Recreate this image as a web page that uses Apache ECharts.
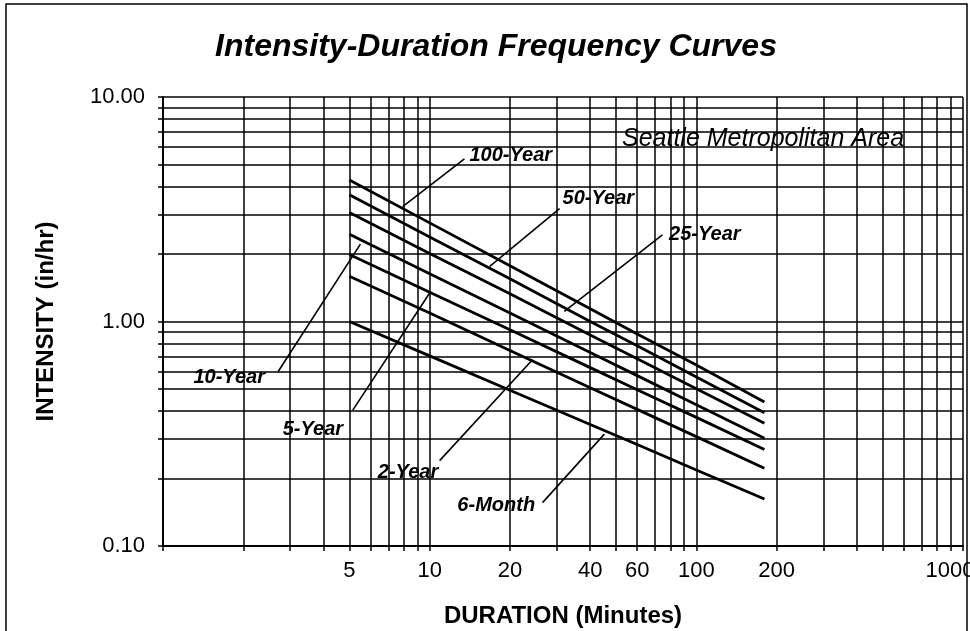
<!DOCTYPE html>
<html>
<head>
<meta charset="utf-8">
<title>Intensity-Duration Frequency Curves</title>
<script src="https://cdn.jsdelivr.net/npm/echarts@6/dist/echarts.min.js"></script>
</head>
<body style="margin:0;background:#fff">
<div id="main" style="width:970px;height:631px"></div>
<script>
var durations = [5, 10, 20, 40, 60, 100, 180];

// intensity (in/hr) per return period
var yr100 = [4.27, 2.75, 1.77, 1.14, 0.88, 0.64, 0.438];
var yr50  = [3.67, 2.38, 1.55, 1.00, 0.78, 0.566, 0.392];
var yr25  = [3.06, 2.01, 1.33, 0.87, 0.683, 0.502, 0.352];
var yr10  = [2.45, 1.63, 1.09, 0.727, 0.574, 0.426, 0.302];
var yr5   = [1.99, 1.35, 0.918, 0.623, 0.497, 0.374, 0.269];
var yr2   = [1.59, 1.09, 0.742, 0.507, 0.406, 0.307, 0.222];
var mo6   = [1.00, 0.703, 0.494, 0.348, 0.283, 0.218, 0.162];

// axis ticks
var xTickLabels = [5, 10, 20, 40, 60, 100, 200, 1000];
var xGrid = [1, 2, 3, 4, 5, 6, 7, 8, 9, 10, 20, 30, 40, 50, 60, 70, 80, 90,
             100, 200, 300, 400, 500, 600, 700, 800, 900, 1000];
var yGrid = [0.1, 0.2, 0.3, 0.4, 0.5, 0.6, 0.7, 0.8, 0.9,
             1, 2, 3, 4, 5, 6, 7, 8, 9, 10];

// curve labels and their leader lines (data coords)
var labelNames = ['100-Year', '50-Year', '25-Year', '10-Year', '5-Year', '2-Year', '6-Month'];
var labelAt = [[14.1, 5.5], [31.5, 3.52], [79, 2.45], [1.30, 0.561], [2.81, 0.331], [6.39, 0.212], [12.7, 0.151]];
var leaderFrom = [[13.5, 5.3], [30.7, 3.18], [74.6, 2.43], [2.70, 0.597], [5.15, 0.403], [10.9, 0.240], [26.5, 0.156]];
var leaderTo = [[7.92, 3.25], [16.8, 1.76], [32, 1.11], [5.5, 2.21], [10.0, 1.34], [24.3, 0.676], [45.2, 0.315]];

var font = 'Liberation Sans, Arial, sans-serif';

function pairs(ys) {
  return durations.map(function (d, i) { return [d, ys[i]]; });
}

var curves = [yr100, yr50, yr25, yr10, yr5, yr2, mo6];

var series = [];

// grid lines drawn as mark lines so minor log lines sit at 2..9
series.push({
  type: 'line',
  data: [],
  z: 1,
  silent: true,
  markLine: {
    silent: true,
    symbol: 'none',
    animation: false,
    label: { show: false },
    lineStyle: { color: '#000', width: 1.5, type: 'solid', opacity: 1 },
    data: xGrid.map(function (v) { return { xAxis: v }; })
      .concat(yGrid.map(function (v) { return { yAxis: v }; }))
  }
});

curves.forEach(function (c, i) {
  series.push({
    type: 'line',
    name: labelNames[i],
    data: pairs(c),
    showSymbol: false,
    symbol: 'none',
    z: 5,
    lineStyle: { color: '#000', width: 2.8 }
  });
});

// leader lines
labelNames.forEach(function (n, i) {
  series.push({
    type: 'line',
    data: [leaderFrom[i], leaderTo[i]],
    symbol: 'none',
    z: 4,
    lineStyle: { color: '#000', width: 1.6 }
  });
});

// curve labels
series.push({
  type: 'scatter',
  symbolSize: 0,
  z: 6,
  itemStyle: { color: '#000', opacity: 1 },
  emphasis: { disabled: true },
  data: labelAt.map(function (p, i) { return { value: p, name: labelNames[i] }; }),
  label: {
    show: true,
    position: 'right',
    distance: 0,
    formatter: '{b}',
    color: '#000',
    opacity: 1,
    textBorderWidth: 0,
    fontFamily: font,
    fontStyle: 'italic',
    fontWeight: 'bold',
    fontSize: 20
  }
});

var chart = echarts.init(document.getElementById('main'));
chart.setOption({
  backgroundColor: '#fff',
  animation: false,
  title: {
    text: 'Intensity-Duration Frequency Curves',
    left: 491,
    textAlign: 'center',
    top: 26,
    textStyle: { fontFamily: font, fontStyle: 'italic', fontWeight: 'bold', fontSize: 32, color: '#000' }
  },
  graphic: [
    { type: 'rect', shape: { x: 6, y: 4, width: 961, height: 660 }, style: { fill: 'none', stroke: '#000', lineWidth: 1.5 } },
    {
      type: 'text', left: 622, top: 127, z: 10,
      style: { text: 'Seattle Metropolitan Area', font: 'italic 25px Liberation Sans, Arial, sans-serif', fill: '#000' }
    }
  ],
  grid: { left: 163, right: 7, top: 97, bottom: 85, containLabel: false, outerBoundsMode: 'none' },
  xAxis: {
    type: 'log',
    logBase: 10,
    min: 1,
    max: 1000,
    name: 'DURATION (Minutes)',
    nameLocation: 'middle',
    nameGap: 58,
    nameTextStyle: { fontFamily: font, fontWeight: 'bold', fontSize: 24, color: '#000' },
    axisLine: { show: true, lineStyle: { color: '#000', width: 2 } },
    axisTick: { show: true, customValues: xGrid, length: 5, lineStyle: { color: '#000', width: 1.5 } },
    axisLabel: {
      customValues: xTickLabels, margin: 14, fontFamily: font, fontSize: 22, color: '#000',
      hideOverlap: false,
      formatter: function (v) {
        var s = String(Math.round(v));
        return v >= 1000 ? '{r|' + s + '}' : s;
      },
      rich: { r: { fontFamily: font, fontSize: 22, color: '#000', padding: [0, 26, 0, 0] } }
    },
    splitLine: { show: false }
  },
  yAxis: {
    type: 'log',
    logBase: 10,
    min: 0.1,
    max: 10,
    name: 'INTENSITY (in/hr)',
    nameLocation: 'middle',
    nameGap: 105,
    nameTextStyle: { fontFamily: font, fontWeight: 'bold', fontSize: 24, color: '#000' },
    axisLine: { show: true, lineStyle: { color: '#000', width: 2 } },
    axisTick: { show: true, customValues: yGrid, length: 5, lineStyle: { color: '#000', width: 1.5 } },
    axisLabel: {
      margin: 18, fontFamily: font, fontSize: 22, color: '#000',
      formatter: function (v) { return Number(v).toFixed(2); }
    },
    splitLine: { show: false }
  },
  series: series
});
</script>
</body>
</html>
